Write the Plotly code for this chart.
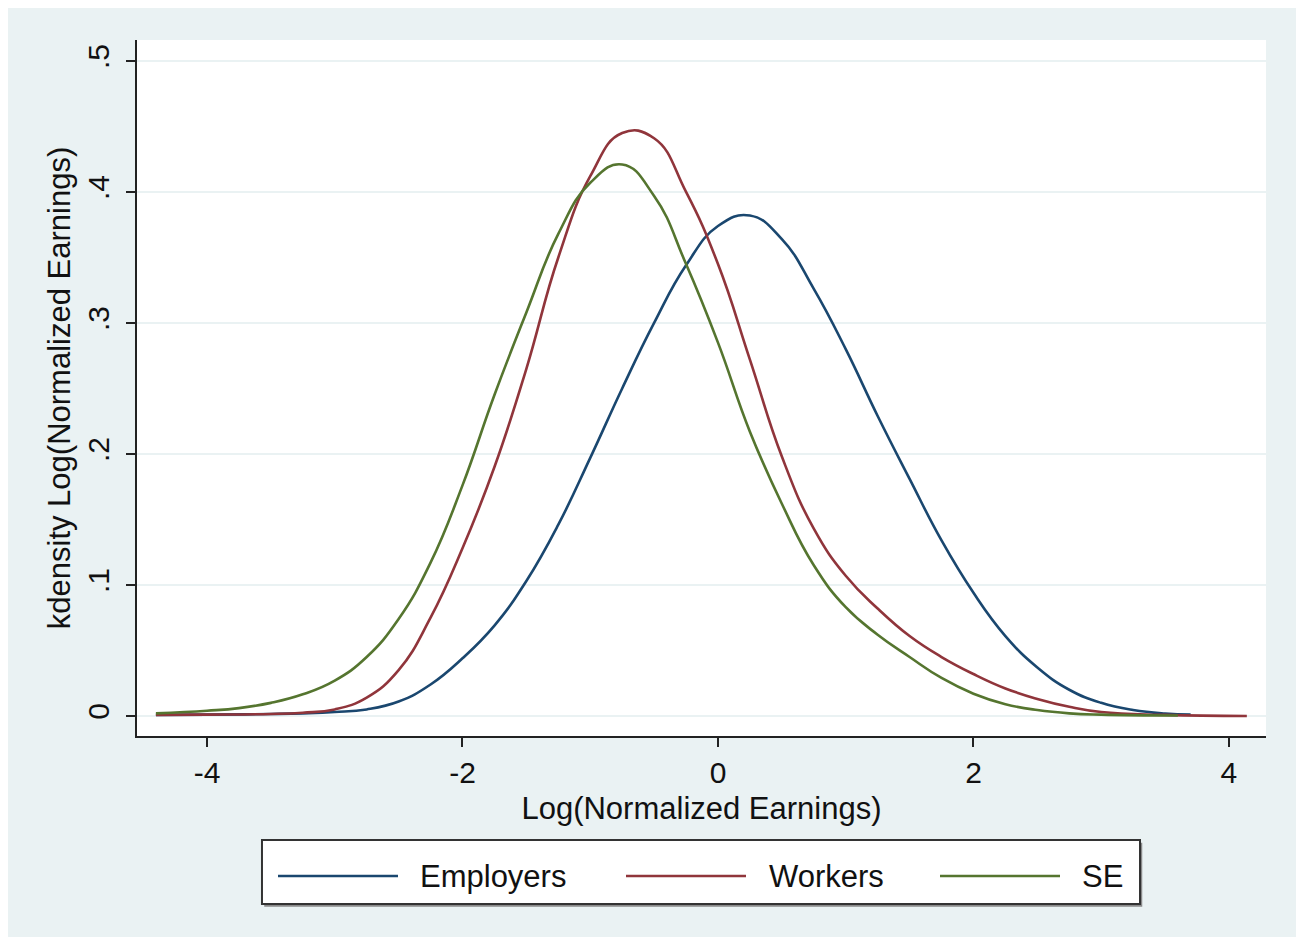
import plotly.graph_objects as go

# Density curves (x = log normalized earnings, y = kdensity)
employers_x = [-4.4, -4.0, -3.5, -3.25, -3.0, -2.75, -2.5, -2.25, -2.0, -1.75, -1.5, -1.25, -1.0, -0.75,
               -0.5, -0.25, 0.0, 0.25, 0.5, 0.75, 1.0, 1.25, 1.5, 1.75, 2.0, 2.25, 2.5, 2.75, 3.0, 3.25,
               3.5, 3.7]
employers_y = [0.0008, 0.001, 0.0015, 0.002, 0.003, 0.005, 0.011, 0.024, 0.044, 0.069, 0.103, 0.146, 0.197, 0.250,
               0.300, 0.344, 0.374, 0.382, 0.364, 0.326, 0.280, 0.229, 0.181, 0.134, 0.094, 0.061, 0.037, 0.020,
               0.010, 0.0045, 0.0018, 0.001]

workers_x = [-4.4, -4.0, -3.5, -3.25, -3.0, -2.75, -2.5, -2.25, -2.0, -1.75, -1.5, -1.25, -1.0, -0.75,
             -0.5, -0.25, 0.0, 0.25, 0.5, 0.75, 1.0, 1.25, 1.5, 1.75, 2.0, 2.25, 2.5, 2.75, 3.0, 3.5, 4.14]
workers_y = [0.0008, 0.001, 0.0015, 0.0025, 0.005, 0.014, 0.035, 0.075, 0.128, 0.190, 0.265, 0.350, 0.412, 0.445,
             0.441, 0.400, 0.345, 0.272, 0.198, 0.143, 0.107, 0.082, 0.061, 0.045, 0.032, 0.021, 0.013, 0.007,
             0.003, 0.0008, 0.0]

se_x = [-4.4, -4.0, -3.75, -3.5, -3.25, -3.0, -2.75, -2.5, -2.25, -2.0, -1.75, -1.5, -1.25, -1.0, -0.75,
        -0.5, -0.25, 0.0, 0.25, 0.5, 0.75, 1.0, 1.25, 1.5, 1.75, 2.0, 2.25, 2.5, 2.75, 3.0, 3.6]
se_y = [0.002, 0.004, 0.006, 0.010, 0.0165, 0.027, 0.045, 0.074, 0.117, 0.176, 0.245, 0.308, 0.368, 0.407, 0.421,
        0.397, 0.345, 0.285, 0.217, 0.162, 0.115, 0.083, 0.062, 0.045, 0.029, 0.017, 0.009, 0.0045, 0.002,
        0.001, 0.0003]

names = ['Employers', 'Workers', 'SE']
colors = ['#1a476f', '#90353b', '#55752f']
y_ticks = [0, 0.1, 0.2, 0.3, 0.4, 0.5]
y_labels = ['0', '.1', '.2', '.3', '.4', '.5']
x_ticks = [-4, -2, 0, 2, 4]
x_labels = ['-4', '-2', '0', '2', '4']

FONT = 'Liberation Sans, Arial, sans-serif'
BG = '#eaf2f3'

fig = go.Figure()
for xs, ys, name, col in zip([employers_x, workers_x, se_x], [employers_y, workers_y, se_y], names, colors):
    fig.add_trace(go.Scatter(x=xs, y=ys, mode='lines', name=name, showlegend=False,
                             line=dict(color=col, width=2.6, shape='spline', smoothing=1.3)))

# plot area in page pixels: x 137..1266, y 40..736 (page body has an 8px margin)
PW, PH = 1129, 696
shapes = []

# hand-drawn legend box, Stata style
lg_x0, lg_x1, lg_y0, lg_y1 = 0.1107, 0.8884, -0.2414, -0.1494
shapes.append(dict(type='rect', xref='paper', yref='paper', x0=lg_x0 + 0.002, x1=lg_x1 + 0.002,
                   y0=lg_y0 - 0.004, y1=lg_y1 - 0.004, fillcolor='#8a8a8a', line=dict(width=0)))
shapes.append(dict(type='rect', xref='paper', yref='paper', x0=lg_x0, x1=lg_x1, y0=lg_y0, y1=lg_y1,
                   fillcolor='white', line=dict(color='#333333', width=2)))
line_starts = [278, 626, 940]
text_starts = [418, 767, 1080]
annotations = []
ly = (736 - 876) / PH
for name, col, ls, ts in zip(names, colors, line_starts, text_starts):
    shapes.append(dict(type='line', xref='paper', yref='paper', x0=(ls - 137) / PW, x1=(ls + 120 - 137) / PW,
                       y0=ly, y1=ly, line=dict(color=col, width=2.6)))
    annotations.append(dict(xref='paper', yref='paper', x=(ts - 137) / PW, y=ly, text=name, showarrow=False,
                            xanchor='left', yanchor='middle', font=dict(family=FONT, size=31, color='#111111')))

fig.update_layout(
    width=1289, height=929,
    margin=dict(l=129, r=31, t=32, b=201),
    paper_bgcolor=BG, plot_bgcolor='white',
    font=dict(family=FONT, size=30, color='#111111'),
    shapes=shapes, annotations=annotations,
    xaxis=dict(range=[-4.548, 4.29], tickvals=x_ticks, ticktext=x_labels, ticks='outside', ticklen=9,
               tickwidth=2, tickcolor='#222222', showline=True, linecolor='#222222', linewidth=2,
               showgrid=False, zeroline=False,
               title=dict(text='Log(Normalized Earnings)', standoff=9, font=dict(size=31))),
    yaxis=dict(range=[-0.0153, 0.516], tickvals=y_ticks, ticktext=y_labels, tickangle=-90, ticks='outside',
               ticklen=9, tickwidth=2, tickcolor='#222222', showline=True, linecolor='#222222', linewidth=2,
               showgrid=True, gridcolor=BG, gridwidth=2, zeroline=False, ticklabelstandoff=5,
               title=dict(text='kdensity Log(Normalized Earnings)', standoff=2, font=dict(size=31))),
)

fig.write_html("out.html")
